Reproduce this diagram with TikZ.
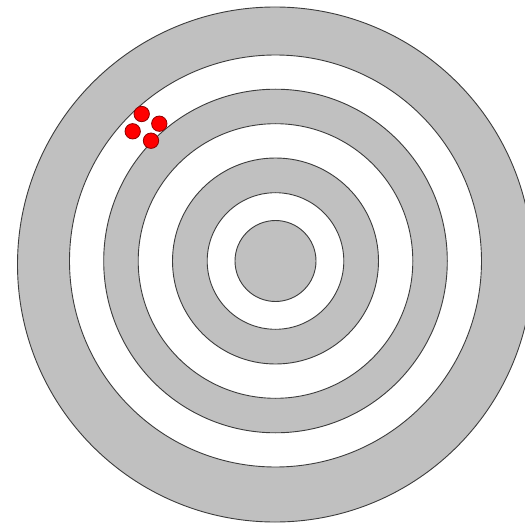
\documentclass[tikz,border=0pt]{standalone}
\begin{document}
\begin{tikzpicture}[x=1pt,y=-1pt,
  ringgray/.style={fill=ringfill,draw=ringline,line width=0.9pt},
  ringwhite/.style={fill=white,draw=ringline,line width=0.9pt},
  shot/.style={circle,fill=red,draw=shotline,line width=0.8pt,minimum size=15.4pt,inner sep=0pt}]
\definecolor{ringfill}{RGB}{192,192,192}
\definecolor{ringline}{RGB}{60,60,60}
\definecolor{shotline}{RGB}{140,0,0}
\useasboundingbox (0,0) rectangle (525,524);
\clip (0,0) rectangle (525,524);
\fill[white] (0,0) rectangle (525,524);
\coordinate (c) at (275.5,261);
\path[ringgray] (275,264.5) circle[radius=257.5pt];
\path[ringwhite] (c) circle[radius=206pt];
\path[ringgray] (c) circle[radius=171.8pt];
\path[ringwhite] (c) circle[radius=137.3pt];
\path[ringgray] (c) circle[radius=103pt];
\path[ringwhite] (c) circle[radius=68.3pt];
\path[ringgray] (c) circle[radius=40.5pt];
\node[shot] (s1) at (141.7,114) {};
\node[shot] (s2) at (159.3,123.7) {};
\node[shot] (s3) at (132.7,131.3) {};
\node[shot] (s4) at (151,140.7) {};
\end{tikzpicture}
\end{document}
